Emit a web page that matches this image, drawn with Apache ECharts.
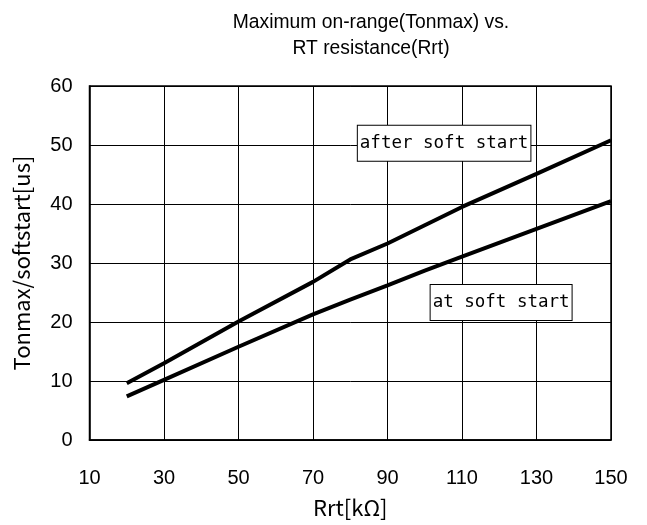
<!DOCTYPE html>
<html>
<head>
<meta charset="utf-8">
<script src="https://cdn.jsdelivr.net/npm/echarts@6/dist/echarts.min.js"></script>
<style>html,body{margin:0;padding:0;background:#fff}#c{width:647px;height:525px}</style>
</head>
<body>
<div id="c"></div>
<script>
var rrt = [20, 30, 50, 70, 80, 90, 100, 110, 130, 150];
var afterSoftStart = [9.6, 13.0, 20.1, 26.8, 30.6, 33.3, 36.4, 39.5, 45.1, 50.8];
var atSoftStart = [7.4, 10.2, 15.8, 21.3, 23.8, 26.2, 28.7, 31.1, 35.8, 40.5];
var xTicks = [10, 30, 50, 70, 90, 110, 130, 150];
var yTicks = [0, 10, 20, 30, 40, 50, 60];
var titleText = 'Maximum on-range(Tonmax) vs.\nRT resistance(Rrt)';
var xName = 'Rrt[kΩ]';
var yName = 'Tonmax/softstart[us]';
var labelAfter = {text: 'after soft start', x: 105.2, y: 50.3};
var labelAt = {text: 'at soft start', x: 120.5, y: 23.3};

function pairs(xs, ys){ return xs.map(function(x,i){ return [x, ys[i]]; }); }

var chart = echarts.init(document.getElementById('c'));
var annLabel = {
  show: true, position: 'inside', color: '#000',
  fontFamily: 'DejaVu Sans Mono', fontSize: 17.5,
  backgroundColor: '#fff', borderColor: '#000', borderWidth: 1,
  padding: [9, 2, 8, 2]
};
chart.setOption({
  animation: false,
  title: {
    text: titleText, left: 366, top: 5, textAlign: 'center',
    textStyle: {fontFamily: 'Liberation Sans', fontSize: 19.3, fontWeight: 'normal', color: '#000', lineHeight: 26}
  },
  grid: {left: 89.5, right: 36, top: 86, bottom: 85, show: true, borderColor: '#000', borderWidth: 1.5,
    containLabel: false, outerBoundsMode: 'none'},
  xAxis: {
    type: 'value', min: xTicks[0], max: xTicks[xTicks.length-1], interval: 20,
    name: xName, nameLocation: 'middle', nameGap: 57,
    nameTextStyle: {fontFamily: 'Noto Sans CJK JP', fontSize: 22, color: '#000'},
    axisLine: {show: true, lineStyle: {color: '#000', width: 1.5}},
    axisTick: {show: false},
    axisLabel: {fontFamily: 'Liberation Sans', fontSize: 20, color: '#000', margin: 28},
    splitLine: {show: true, lineStyle: {color: '#000', width: 1}}
  },
  yAxis: {
    type: 'value', min: yTicks[0], max: yTicks[yTicks.length-1], interval: 10,
    name: yName, nameLocation: 'middle', nameGap: 57,
    nameTextStyle: {fontFamily: 'Noto Sans CJK JP', fontSize: 22, color: '#000'},
    axisLine: {show: true, lineStyle: {color: '#000', width: 1.5}},
    axisTick: {show: false},
    axisLabel: {fontFamily: 'Liberation Sans', fontSize: 20, color: '#000', margin: 17},
    splitLine: {show: true, lineStyle: {color: '#000', width: 1}}
  },
  series: [
    {
      type: 'line', data: pairs(rrt, afterSoftStart), showSymbol: false, symbol: 'none',
      lineStyle: {color: '#000', width: 4}, z: 3,
      markPoint: {symbol: 'rect', symbolSize: 0, data: [{coord: [labelAfter.x, labelAfter.y], value: labelAfter.text}],
        label: Object.assign({formatter: labelAfter.text}, annLabel)}
    },
    {
      type: 'line', data: pairs(rrt, atSoftStart), showSymbol: false, symbol: 'none',
      lineStyle: {color: '#000', width: 4}, z: 3,
      markPoint: {symbol: 'rect', symbolSize: 0, data: [{coord: [labelAt.x, labelAt.y], value: labelAt.text}],
        label: Object.assign({formatter: labelAt.text}, annLabel)}
    }
  ]
});
</script>
</body>
</html>
